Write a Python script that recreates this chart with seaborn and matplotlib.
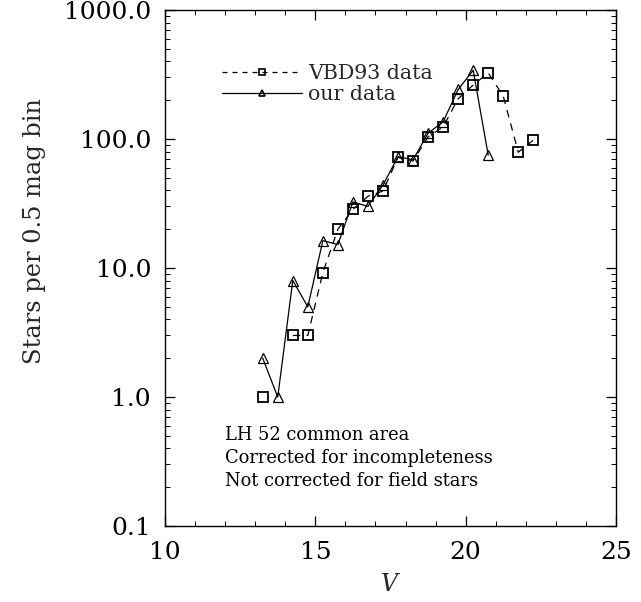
import numpy as np
import pandas as pd
import matplotlib
matplotlib.use("Agg")
import matplotlib.pyplot as plt
import seaborn as sns
from matplotlib.lines import Line2D
from matplotlib.ticker import NullFormatter, LogLocator, MultipleLocator

sns.set_theme(style="ticks")
plt.rcParams['font.family'] = ['DejaVu Serif']
plt.rcParams['mathtext.fontset'] = 'dejavuserif'

# VBD93 data (squares, dashed)
vbd_v = [13.25, 14.25, 14.75, 15.25, 15.75, 16.25, 16.75, 17.25, 17.75, 18.25,
         18.75, 19.25, 19.75, 20.25, 20.75, 21.25, 21.75, 22.25]
vbd_n = [1.0, 3.0, 3.0, 9.2, 20.0, 28.5, 36.0, 39.5, 72.0, 67.5,
         104.0, 124.0, 205.0, 262.0, 325.0, 215.0, 79.0, 98.0]
vbd_seg = [0, 1, 1, 1, 1, 1, 1, 1, 1, 1, 1, 1, 1, 1, 1, 1, 1, 1]

# our data (triangles, solid)
our_v = [13.25, 13.75, 14.25, 14.75, 15.25, 15.75, 16.25, 16.75, 17.25, 17.75,
         18.25, 18.75, 19.25, 19.75, 20.25, 20.75]
our_n = [2.0, 1.0, 8.0, 5.0, 16.3, 15.2, 32.5, 30.0, 44.0, 73.0,
         69.0, 111.0, 136.0, 242.0, 341.0, 75.0]

xticks = [10, 15, 20, 25]
yticks = [0.1, 1.0, 10.0, 100.0, 1000.0]
ytick_labels = ["0.1", "1.0", "10.0", "100.0", "1000.0"]

notes = ["LH 52 common area", "Corrected for incompleteness", "Not corrected for field stars"]

df_vbd = pd.DataFrame({"V": vbd_v, "N": vbd_n, "seg": vbd_seg})
df_our = pd.DataFrame({"V": our_v, "N": our_n})

fig = plt.figure(figsize=(6.41, 6.02), dpi=100)
ax = fig.add_axes([165/641, 1-526/602, 451/641, 516/602])
ax.set_facecolor("white")

lw = 0.9
ms = 7.2
sns.lineplot(data=df_vbd, x="V", y="N", units="seg", estimator=None, sort=False,
             ax=ax, color="black", linestyle=(0, (6, 5)), linewidth=lw,
             marker="s", markersize=ms, markerfacecolor="none",
             markeredgecolor="black", markeredgewidth=1.3, legend=False)
sns.lineplot(data=df_our, x="V", y="N", estimator=None, sort=False,
             ax=ax, color="black", linestyle="-", linewidth=lw,
             marker="^", markersize=ms, markerfacecolor="none",
             markeredgecolor="black", markeredgewidth=0.9, legend=False)

ax.set_yscale("log")
ax.set_xlim(10, 25)
ax.set_ylim(0.1, 1000)
ax.set_xticks(xticks)
ax.set_xticklabels([str(t) for t in xticks])
ax.xaxis.set_minor_locator(MultipleLocator(1))
ax.set_yticks(yticks)
ax.set_yticklabels(ytick_labels)
ax.yaxis.set_minor_locator(LogLocator(base=10, subs=np.arange(2, 10)))
ax.yaxis.set_minor_formatter(NullFormatter())

ax.tick_params(which="both", direction="in", top=True, right=True, colors="black",
               labelsize=18)
ax.tick_params(axis="y", pad=10)
ax.tick_params(axis="x", pad=11)
ax.tick_params(which="major", length=7, width=0.9)
ax.tick_params(which="minor", length=3.5, width=0.7)
for s in ax.spines.values():
    s.set_color("black")
    s.set_linewidth(1.0)

ax.set_xlabel("$V$", fontsize=17, labelpad=6)
ax.set_ylabel("Stars per 0.5 mag bin", fontsize=17.4)
ax.yaxis.set_label_coords((46 - 165) / 451, (526 - 231) / 516)

handles = [
    Line2D([], [], color="black", linestyle=(0, (4, 4)), linewidth=lw, marker="s",
           markersize=5, markerfacecolor="none", markeredgewidth=1.2),
    Line2D([], [], color="black", linestyle="-", linewidth=lw, marker="^",
           markersize=5, markerfacecolor="none", markeredgewidth=1.2),
]
ax.legend(handles, ["VBD93 data", "our data"], loc="upper left",
          bbox_to_anchor=(0.109, 0.911), frameon=False, fontsize=14.8,
          handlelength=3.85, handletextpad=0.3, labelspacing=0.1, borderaxespad=0)

for i, t in enumerate(notes):
    ax.text(0.133, 0.177 - i * 0.045, t, transform=ax.transAxes, fontsize=12.9,
            ha="left", va="center", color="black")

fig.savefig("out.png", dpi=100, facecolor="white")
